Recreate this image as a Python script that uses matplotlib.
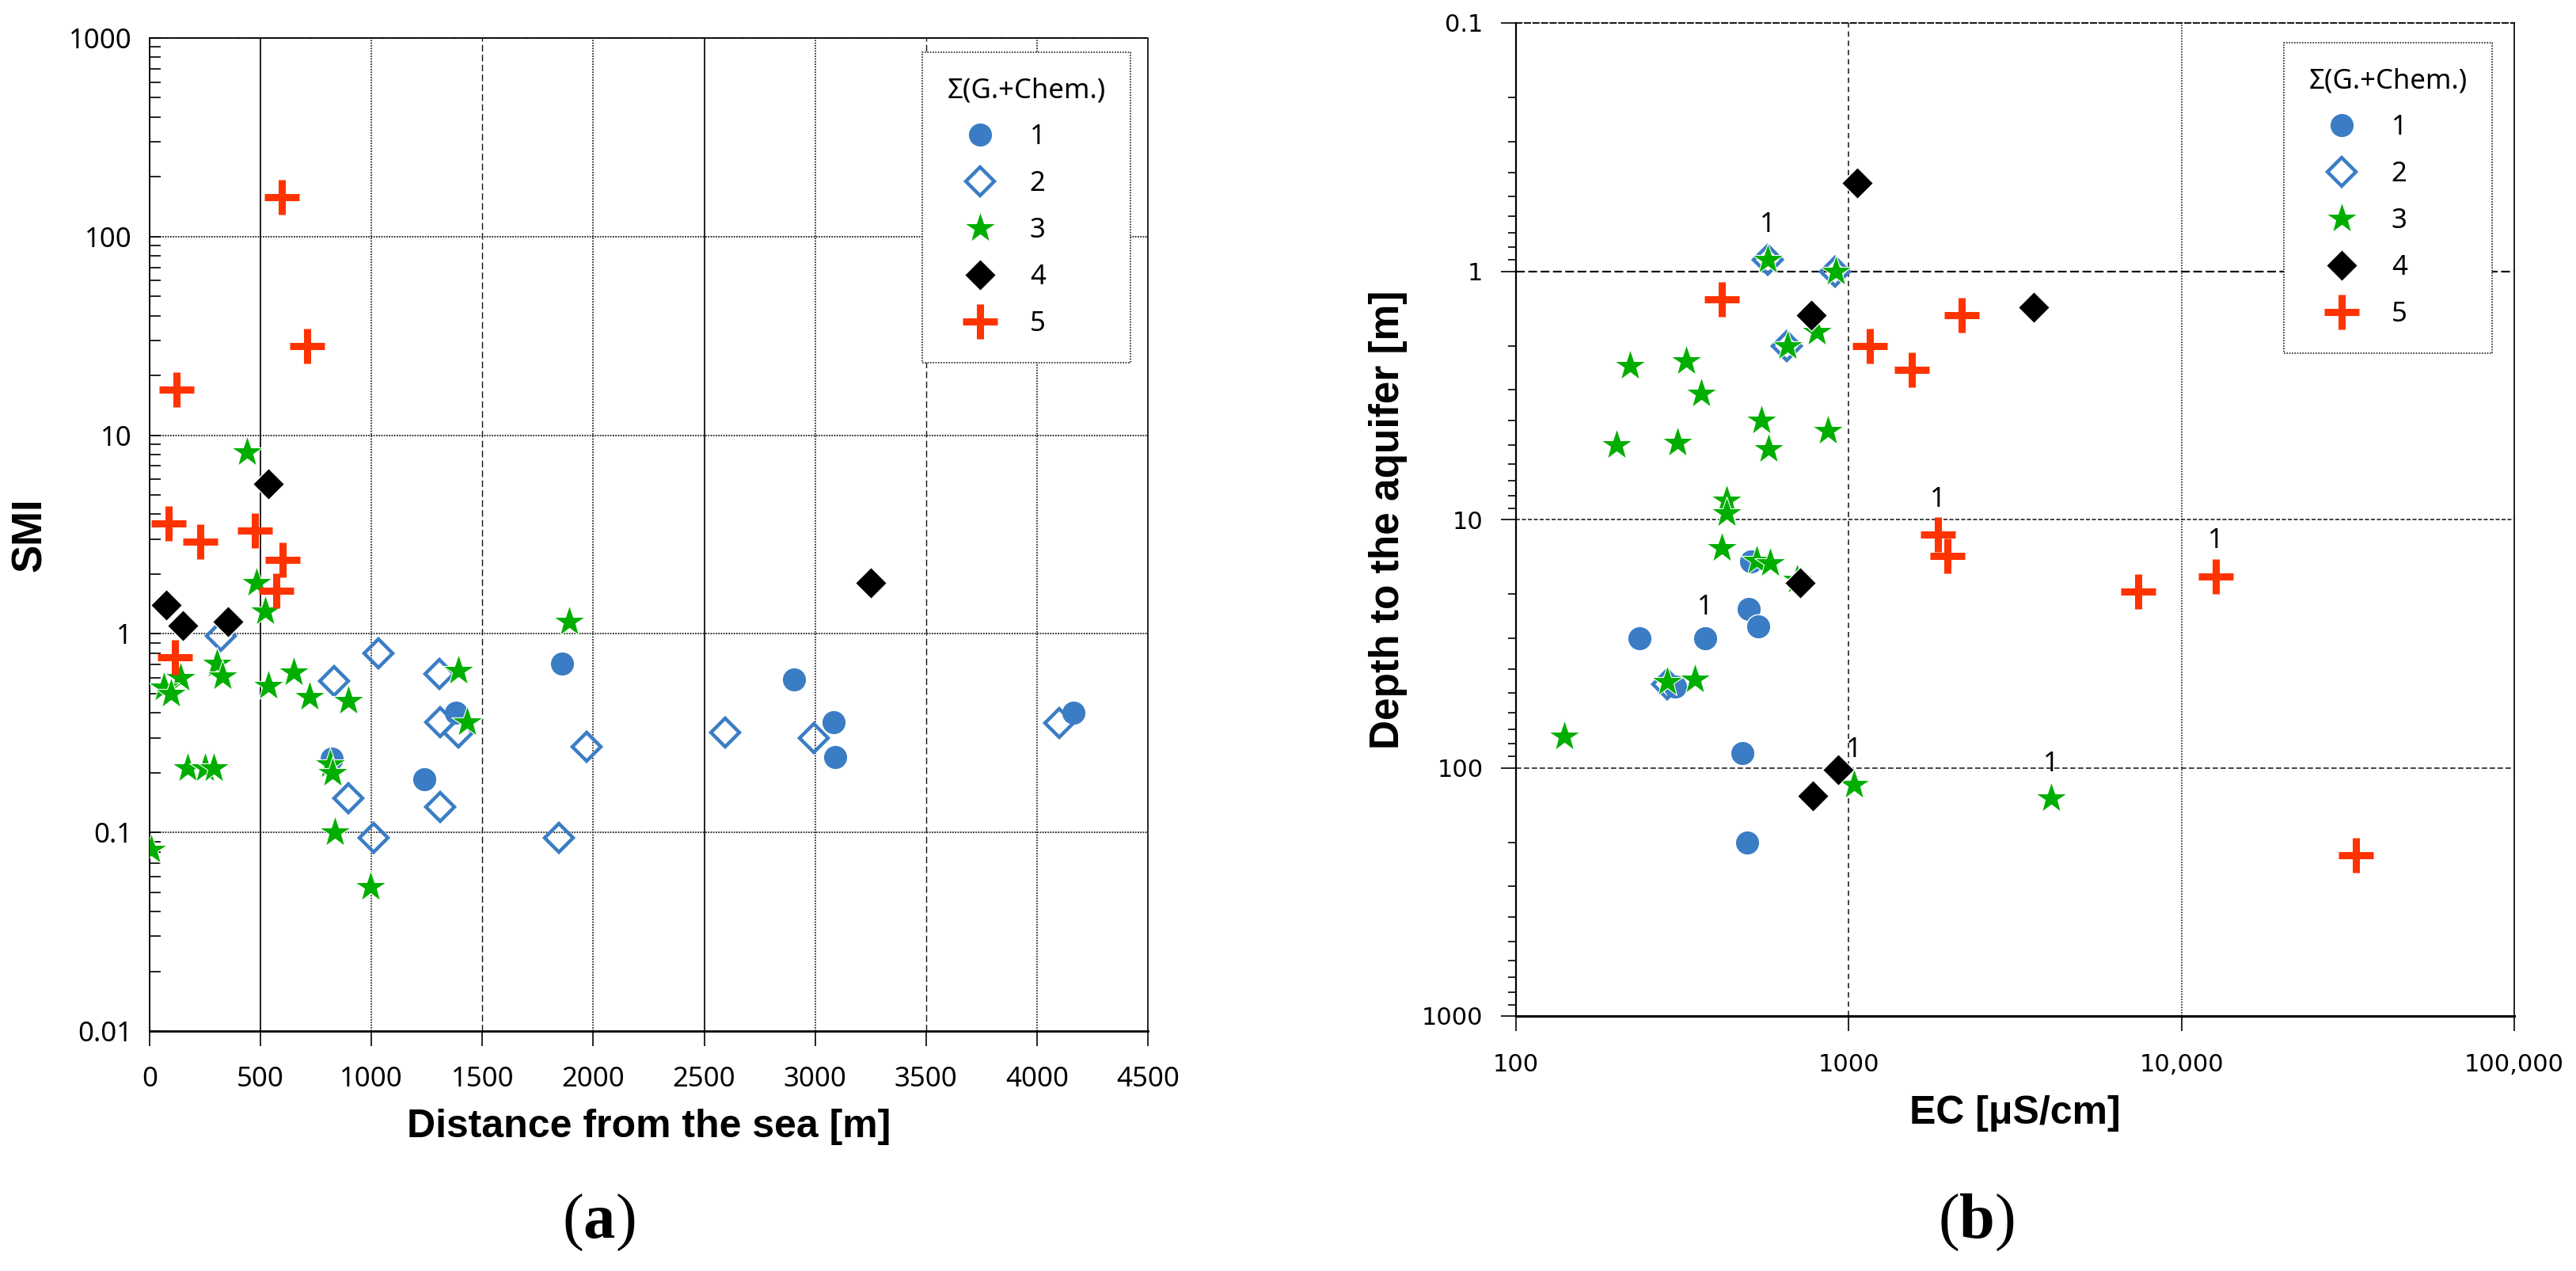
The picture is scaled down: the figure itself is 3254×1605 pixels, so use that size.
import matplotlib
matplotlib.use('Agg')
import matplotlib.pyplot as plt
from matplotlib.ticker import NullLocator, NullFormatter, LogLocator

plt.rcParams['mathtext.fontset'] = 'custom'
plt.rcParams['mathtext.rm'] = 'Liberation Serif'
plt.rcParams['mathtext.bf'] = 'Liberation Serif:bold'

# ---- data: panel (a) distance from the sea vs SMI ----
group_labels = ['1', '2', '3', '4', '5']

a_x1 = [1860, 2905, 3085, 3090, 4165, 1240, 1380, 820]
a_y1 = [0.71, 0.59, 0.36, 0.24, 0.40, 0.185, 0.40, 0.235]
a_x2 = [320, 830, 1030, 1305, 1310, 1390, 895, 1310, 1010, 1845, 1970, 2595, 2995, 4100]
a_y2 = [0.98, 0.58, 0.80, 0.63, 0.36, 0.32, 0.148, 0.134, 0.094, 0.094, 0.27, 0.32, 0.30, 0.355]
a_x3 = [440, 480, 520, 1890, 305, 330, 140, 65, 95, 650, 535, 720, 895, 1390, 1430,
        170, 250, 290, 815, 825, 835, 995, 8]
a_y3 = [8.2, 1.8, 1.3, 1.15, 0.71, 0.61, 0.60, 0.54, 0.50, 0.64, 0.55, 0.48, 0.46, 0.65, 0.36,
        0.21, 0.21, 0.21, 0.22, 0.20, 0.10, 0.053, 0.082]
a_x4 = [535, 3250, 75, 150, 355]
a_y4 = [5.7, 1.8, 1.4, 1.1, 1.15]
a_x5 = [595, 710, 120, 85, 230, 475, 600, 570, 115]
a_y5 = [158, 28, 17, 3.6, 2.9, 3.3, 2.35, 1.65, 0.76]

a_xticks = [0, 500, 1000, 1500, 2000, 2500, 3000, 3500, 4000, 4500]
a_yticks = [0.01, 0.1, 1, 10, 100, 1000]
a_ytick_labels = ['0.01', '0.1', '1', '10', '100', '1000']

# ---- data: panel (b) EC vs depth to the aquifer ----
b_x1 = [500, 535, 235, 370, 300, 480, 495, 510]
b_y1 = [23, 27, 30, 30, 47, 87, 200, 14.8]
b_x2 = [570, 910, 650, 285]
b_y2 = [0.9, 1.0, 2.0, 46]
b_x3 = [570, 915, 800, 655, 220, 325, 360, 545, 865, 200, 305, 575, 430, 430, 415, 530, 580,
        285, 345, 140, 1035, 4050, 700]
b_y3 = [0.9, 1.0, 1.75, 2.0, 2.4, 2.3, 3.1, 4.0, 4.4, 5.0, 4.9, 5.2, 8.4, 9.4, 13, 14.7, 15,
        45, 44, 75, 117, 133, 17.5]
b_x4 = [1060, 770, 3600, 715, 930, 780]
b_y4 = [0.44, 1.5, 1.4, 18, 102, 130]
b_x5 = [415, 1160, 2180, 1550, 1850, 1980, 7400, 12700, 33500]
b_y5 = [1.3, 2.0, 1.5, 2.5, 11.5, 14, 19.5, 17, 225]

# "1" notes next to some points
b_note_x = [570, 1850, 12700, 370, 1035, 4050]
b_note_y = [0.65, 8.3, 12.2, 22.6, 85, 96.7]

b_xticks = [100, 1000, 10000, 100000]
b_xtick_labels = ['100', '1000', '10,000', '100,000']
b_yticks = [0.1, 1, 10, 100, 1000]
b_ytick_labels = ['0.1', '1', '10', '100', '1000']

# ---- marker styles ----
c_blue = '#3A7DC4'
c_green = '#00AE00'
c_red = '#FF3300'
styles = [
    dict(marker='o', ms=22, mfc=c_blue, mec='white', mew=1.0),
    dict(marker='D', ms=18.5, mfc='none', mec=c_blue, mew=3.2),
    dict(marker='*', ms=30, mfc=c_green, mec='white', mew=0.8),
    dict(marker='D', ms=20.5, mfc='black', mec='white', mew=1.0),
    dict(marker='+', ms=31, mec=c_red, mew=6.5),
]

fig = plt.figure(figsize=(32.55, 16.05), dpi=100)
W, H = 3255.0, 1605.0

ax_a = fig.add_axes([189 / W, 1 - 1302 / H, 1261 / W, 1254 / H])
ax_b = fig.add_axes([1915 / W, 1 - 1283 / H, 1261 / W, 1254 / H])


def draw_groups(ax, xs_list, ys_list):
    for xs, ys, st, lab in zip(xs_list, ys_list, styles, group_labels):
        ax.plot(xs, ys, linestyle='none', label=lab, zorder=3, **st)


def add_legend(ax, anchor):
    leg = ax.legend(loc='upper right', bbox_to_anchor=anchor, bbox_transform=fig.transFigure,
                    borderaxespad=0, numpoints=1, title='Σ(G.+Chem.)', alignment='left',
                    prop={'family': 'Noto Sans', 'size': 25},
                    title_fontproperties={'family': 'Noto Sans', 'size': 25},
                    handlelength=2.4, handletextpad=0.6, labelspacing=0.72,
                    borderpad=0.9, fancybox=False, framealpha=1, edgecolor='#222222')
    leg.get_frame().set_linestyle((0, (1, 1)))
    leg.get_frame().set_linewidth(1.2)
    leg.set_zorder(5)
    return leg


# ================= panel (a) =================
draw_groups(ax_a, [a_x1, a_x2, a_x3, a_x4, a_x5], [a_y1, a_y2, a_y3, a_y4, a_y5])
ax_a.set_yscale('log')
ax_a.set_xlim(0, 4500)
ax_a.set_ylim(0.01, 1000)

# vertical grid with the odd mixed styles of the original
vstyles = ['-', (0, (1, 1)), (0, (6, 3)), (0, (1, 1)), '-', (0, (1, 1)), (0, (6, 3)), (0, (1, 1))]
vwidths = [1.3, 1.2, 1.0, 1.2, 1.3, 1.2, 1.0, 1.2]
for xv, ls, lw in zip(a_xticks[1:-1], vstyles, vwidths):
    ax_a.axvline(xv, color='#111111', linestyle=ls, linewidth=lw, zorder=1)
for yv in a_yticks[1:-1]:
    ax_a.axhline(yv, color='#222222', linestyle=(0, (1, 0.8)), linewidth=1.3, zorder=1)

ax_a.spines['top'].set_linestyle((0, (1, 0.8)))
ax_a.spines['right'].set_linestyle((0, (1, 1)))
ax_a.spines['top'].set_linewidth(1.3)
ax_a.spines['right'].set_linewidth(1.2)
ax_a.spines['left'].set_linewidth(1.4)
ax_a.spines['bottom'].set_linewidth(2.0)

ax_a.set_xticks(a_xticks, [str(v) for v in a_xticks], fontfamily='Noto Sans', fontsize=25)
ax_a.set_yticks(a_yticks, a_ytick_labels, fontfamily='Noto Sans', fontsize=25)
ax_a.yaxis.set_minor_locator(LogLocator(base=10, subs=range(2, 10), numticks=20))
ax_a.yaxis.set_minor_formatter(NullFormatter())
ax_a.xaxis.set_minor_locator(NullLocator())
ax_a.tick_params(axis='x', which='major', direction='out', length=14, width=1.2, pad=18)
ax_a.tick_params(axis='y', which='both', direction='in', length=10, width=1.2, pad=16)

ax_a.set_xlabel('Distance from the sea [m]', fontfamily='Liberation Sans', fontweight='bold',
                fontsize=36)
ax_a.xaxis.set_label_coords(0.5, -0.078)
ax_a.set_ylabel('SMI', fontfamily='Liberation Sans', fontweight='bold', fontsize=38)
ax_a.yaxis.set_label_coords(-0.1, 0.5)

add_legend(ax_a, (1428 / W, 1 - 66 / H))

# ================= panel (b) =================
draw_groups(ax_b, [b_x1, b_x2, b_x3, b_x4, b_x5], [b_y1, b_y2, b_y3, b_y4, b_y5])
ax_b.set_xscale('log')
ax_b.set_yscale('log')
ax_b.set_xlim(100, 100000)
ax_b.set_ylim(1000, 0.1)

ax_b.axhline(1, color='#111111', linestyle=(0, (5, 2)), linewidth=1.6, zorder=1)
ax_b.axhline(10, color='#222222', linestyle=(0, (3, 1.5)), linewidth=1.2, zorder=1)
ax_b.axhline(100, color='#222222', linestyle=(0, (4, 2)), linewidth=1.2, zorder=1)
ax_b.axvline(1000, color='#222222', linestyle=(0, (4, 3)), linewidth=1.2, zorder=1)
ax_b.axvline(10000, color='#222222', linestyle=(0, (1, 1)), linewidth=1.2, zorder=1)

ax_b.spines['top'].set_linestyle((0, (4, 2)))
ax_b.spines['right'].set_linestyle((0, (1, 1)))
ax_b.spines['top'].set_linewidth(1.3)
ax_b.spines['right'].set_linewidth(1.2)
ax_b.spines['left'].set_linewidth(1.6)
ax_b.spines['bottom'].set_linewidth(2.2)

for xn, yn in zip(b_note_x, b_note_y):
    ax_b.text(xn, yn, '1', fontfamily='Noto Sans', fontsize=25, ha='center', va='center',
              zorder=4)

ax_b.set_xticks(b_xticks, b_xtick_labels, fontfamily='DejaVu Sans', fontsize=22)
ax_b.set_yticks(b_yticks, b_ytick_labels, fontfamily='DejaVu Sans', fontsize=22)
ax_b.xaxis.set_minor_locator(NullLocator())
ax_b.yaxis.set_minor_locator(LogLocator(base=10, subs=range(2, 10), numticks=20))
ax_b.yaxis.set_minor_formatter(NullFormatter())
ax_b.tick_params(axis='x', which='major', direction='out', length=14, width=1.2, pad=20)
ax_b.tick_params(axis='y', which='major', direction='out', length=14, width=1.2, pad=16)
ax_b.tick_params(axis='y', which='minor', direction='out', length=7, width=1.2)

ax_b.set_xlabel('EC [μS/cm]', fontfamily='Liberation Sans', fontweight='bold', fontsize=36)
ax_b.xaxis.set_label_coords(0.5, -0.08)
ax_b.set_ylabel('Depth to the aquifer [m]', fontfamily='Liberation Sans', fontweight='bold',
                fontsize=37)
ax_b.yaxis.set_label_coords(-0.109, 0.5)

add_legend(ax_b, (3148 / W, 1 - 54 / H))

# panel letters
fig.text(756 / W, 1 - 1544 / H, r'($\mathbf{a}$)', fontfamily='Liberation Serif', fontsize=58,
         ha='center', va='center')
fig.text(2496 / W, 1 - 1544 / H, r'($\mathbf{b}$)', fontfamily='Liberation Serif', fontsize=58,
         ha='center', va='center')

fig.savefig('out.png', dpi=100)
